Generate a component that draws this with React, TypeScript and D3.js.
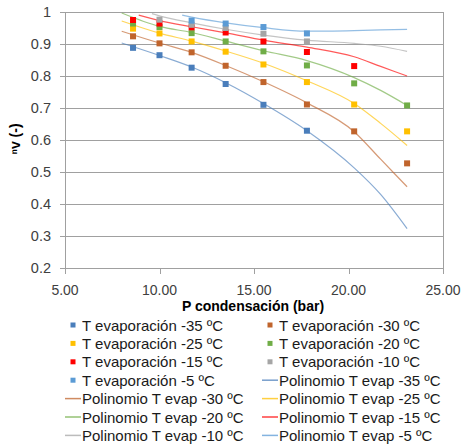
import * as d3 from "d3";

const width = 462;
const height = 447;

// condensation pressures of the measured points (bar)
const pressures = [8.6, 10.0, 11.7, 13.5, 15.5, 17.8, 20.3, 23.1];

const evap35 = [0.888, 0.865, 0.826, 0.775, 0.71, 0.629, null, null];
const evap30 = [0.924, 0.902, 0.874, 0.832, 0.781, 0.711, 0.627, 0.527];
const evap25 = [0.948, 0.933, 0.908, 0.876, 0.836, 0.781, 0.711, 0.627];
const evap20 = [0.964, 0.953, 0.934, 0.908, 0.877, 0.833, 0.777, 0.708];
const evap15 = [0.975, 0.964, 0.952, 0.936, 0.908, 0.875, 0.831, null];
const evap10 = [null, 0.976, 0.96, 0.95, 0.932, 0.908, null, null];
const evap5 = [null, null, 0.973, 0.964, 0.953, 0.933, null, null];

// trendline (polinomio) points
const trendP = [8.0, 8.9, 9.6, 10.0, 11.2, 11.7, 13.5, 15.5, 17.8, 20.3, 21.7, 23.1];
const poly35 = [0.903, null, null, 0.864, null, 0.828, 0.779, 0.714, 0.629, 0.513, 0.43, 0.323];
const poly30 = [0.94, null, null, 0.903, null, 0.874, 0.833, 0.782, 0.716, 0.626, 0.54, 0.454];
const poly25 = [0.972, null, null, 0.934, null, 0.909, 0.878, 0.84, 0.785, 0.714, 0.652, 0.583];
const poly20 = [0.997, null, null, 0.955, null, 0.936, 0.909, 0.879, 0.848, 0.795, 0.755, 0.708];
const poly15 = [null, 0.99, null, 0.973, null, 0.954, 0.935, 0.912, 0.89, 0.86, 0.83, 0.8];
const poly10 = [null, null, 0.995, 0.988, null, 0.966, 0.946, 0.928, 0.912, 0.902, 0.893, 0.877];
const poly5 = [null, null, null, null, 0.99, 0.984, 0.966, 0.951, 0.94, 0.942, 0.944, 0.946];

const temps = ["-35", "-30", "-25", "-20", "-15", "-10", "-5"];
const colors = ["#4A7EBB", "#C0642C", "#FFC000", "#70AD47", "#FF0000", "#A5A5A5", "#5B9BD5"];
const pointSeries = [evap35, evap30, evap25, evap20, evap15, evap10, evap5];
const polySeries = [poly35, poly30, poly25, poly20, poly15, poly10, poly5];

const yTicks = [0.2, 0.3, 0.4, 0.5, 0.6, 0.7, 0.8, 0.9, 1];
const xTicks = [5, 10, 15, 20, 25];

const font = "'Liberation Sans', Arial, sans-serif";

const App = () => {
  const x = d3.scaleLinear().domain([5, 25]).range([65, 443]);
  const y = d3.scaleLinear().domain([0.2, 1]).range([268, 12]);

  const line = d3
    .line<[number, number]>()
    .x((d) => x(d[0]))
    .y((d) => y(d[1]))
    .curve(d3.curveMonotoneX);

  const legendItems = [
    ...temps.map((t, i) => ({ label: `T evaporación ${t} ºC`, color: colors[i], kind: "point" })),
    ...temps.map((t, i) => ({ label: `Polinomio T evap ${t} ºC`, color: colors[i], kind: "line" })),
  ];

  return (
    <svg
      width={width}
      height={height}
      style={{ position: "absolute", left: 0, top: 0, background: "#fff" }}
      fontFamily={font}
    >
      <defs>
        <clipPath id="plot">
          <rect x={65} y={12} width={378} height={256} />
        </clipPath>
      </defs>

      {/* grid */}
      {yTicks.map((t) => (
        <g key={t}>
          <line x1={60} x2={443} y1={Math.round(y(t)) + 0.5} y2={Math.round(y(t)) + 0.5} stroke="#A0A0A0" />
          <text x={51} y={y(t) + 5} textAnchor="end" fontSize={14.5} fill="#404040">
            {d3.format("")(t)}
          </text>
        </g>
      ))}
      <line x1={65.5} x2={65.5} y1={12} y2={268} stroke="#A0A0A0" />
      <line x1={443.5} x2={443.5} y1={12} y2={268} stroke="#A0A0A0" />
      {xTicks.map((t) => (
        <g key={t}>
          <line x1={Math.round(x(t)) + 0.5} x2={Math.round(x(t)) + 0.5} y1={268} y2={274} stroke="#A0A0A0" />
          <text x={x(t)} y={295} textAnchor="middle" fontSize={14} fill="#404040">
            {d3.format(".2f")(t)}
          </text>
        </g>
      ))}

      {/* trendlines */}
      <g clipPath="url(#plot)">
        {polySeries.map((s, i) => {
          const pts = trendP
            .map((p, j) => [p, s[j]] as [number, number | null])
            .filter((d) => d[1] !== null) as [number, number][];
          return (
            <path key={i} d={line(pts) || ""} fill="none" stroke={colors[i]} strokeWidth={1.2} strokeOpacity={0.65} />
          );
        })}
      </g>

      {/* points */}
      {pointSeries.map((s, i) => (
        <g key={i} fill={colors[i]}>
          {pressures.map((p, j) =>
            s[j] === null ? null : <rect key={j} x={x(p) - 3} y={y(s[j] as number) - 3} width={6} height={6} />
          )}
        </g>
      ))}

      {/* axis titles */}
      <text x={253} y={311} textAnchor="middle" fontSize={14} fontWeight="bold" fill="#000">
        P condensación (bar)
      </text>
      <text
        transform="translate(20,139) rotate(-90)"
        textAnchor="middle"
        fontSize={14}
        fontWeight="bold"
        fill="#000"
      >
        ⁿv (-)
      </text>

      {/* legend */}
      {legendItems.map((d, i) => {
        const col = i % 2;
        const row = Math.floor(i / 2);
        const lx = col === 0 ? 65 : 262;
        const ly = 325 + row * 18.4;
        return (
          <g key={i}>
            {d.kind === "point" ? (
              <rect x={lx + 5.5} y={ly - 2.5} width={5} height={5} fill={d.color} />
            ) : (
              <line x1={lx} x2={lx + 16} y1={ly} y2={ly} stroke={d.color} strokeWidth={1.5} strokeOpacity={0.75} />
            )}
            <text x={lx + 17} y={ly + 5.5} fontSize={15} fill="#1a1a1a">
              {d.label}
            </text>
          </g>
        );
      })}
    </svg>
  );
};

export default App;
